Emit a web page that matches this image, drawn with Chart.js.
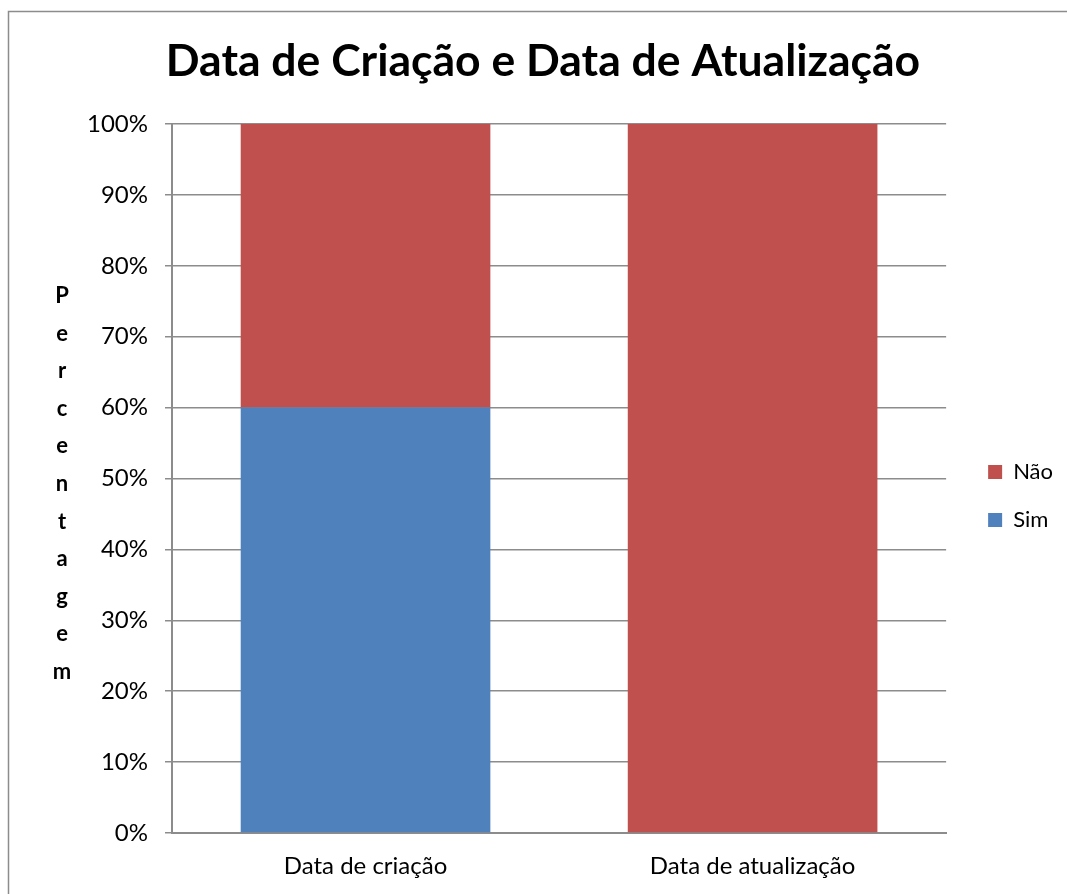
<!DOCTYPE html>
<html>
<head>
<meta charset="utf-8">
<script src="https://cdn.jsdelivr.net/npm/chart.js@4.4.0/dist/chart.umd.min.js"></script>
<style>
  html, body { margin: 0; padding: 0; background: #fff; overflow: hidden; }
  #wrap { width: 1067px; height: 894px; }
  canvas { display: block; }
</style>
</head>
<body>
<div id="wrap"><canvas id="grafico"></canvas></div>
<script>
const categorias = ["Data de criação", "Data de atualização"];
const sim = [60, 0];
const nao = [40, 100];
const ticksY = [0, 10, 20, 30, 40, 50, 60, 70, 80, 90, 100];
const tituloEixoY = "Percentagem";

const fonte = "Lato, 'Open Sans', sans-serif";
const cinza = "#8c8c8c";

// moldura exterior, legenda deslocada e título vertical letra a letra
const extras = {
  id: "extras",
  afterLayout(chart) {
    const lg = chart.legend;
    lg.left += 16; lg.right += 16;
    lg.top += 49; lg.bottom += 49;
  },
  beforeDraw(chart) {
    const ctx = chart.ctx;
    ctx.save();
    ctx.strokeStyle = cinza;
    ctx.lineWidth = 1.5;
    ctx.beginPath();
    ctx.moveTo(chart.width, 11.5);
    ctx.lineTo(8.5, 11.5);
    ctx.lineTo(8.5, chart.height);
    ctx.stroke();
    ctx.restore();
  },
  afterDraw(chart) {
    const ctx = chart.ctx;
    ctx.save();
    ctx.font = "bold 22px " + fonte;
    ctx.fillStyle = "#000";
    ctx.textAlign = "center";
    ctx.textBaseline = "middle";
    tituloEixoY.split("").forEach((l, i) => ctx.fillText(l, 62, 296 + i * 37.6));
    ctx.restore();
  }
};

new Chart(document.getElementById("grafico"), {
  type: "bar",
  data: {
    labels: categorias,
    datasets: [
      { label: "Sim", data: sim, backgroundColor: "#4f81bd", categoryPercentage: 1, barPercentage: 0.645 },
      { label: "Não", data: nao, backgroundColor: "#c0504d", categoryPercentage: 1, barPercentage: 0.645 }
    ]
  },
  options: {
    responsive: true,
    maintainAspectRatio: false,
    animation: false,
    layout: { padding: { top: 0, left: 39, right: 20, bottom: 0 } },
    plugins: {
      title: {
        display: true,
        text: "Data de Criação e Data de Atualização",
        color: "#000",
        font: { family: fonte, size: 44.5, weight: "bold" },
        padding: { top: 35, bottom: 35.6 }
      },
      legend: {
        position: "right",
        reverse: true,
        labels: {
          color: "#000",
          font: { family: fonte, size: 22 },
          boxWidth: 14,
          boxHeight: 14,
          padding: 26
        }
      },
      tooltip: { enabled: false }
    },
    scales: {
      x: {
        stacked: true,
        grid: { display: true, drawOnChartArea: false, drawTicks: false, color: "rgba(0,0,0,0)" },
        border: { display: true, color: cinza, width: 2 },
        ticks: { color: "#000", font: { family: fonte, size: 24 }, padding: 19 },
        afterFit(s) { s.height = 61; }
      },
      y: {
        stacked: true,
        min: 0,
        max: 100,
        afterBuildTicks(s) { s.ticks = ticksY.map(v => ({ value: v })); },
        grid: { color: cinza, lineWidth: 1.5, tickLength: 7 },
        border: { display: true, color: cinza, width: 2 },
        ticks: {
          color: "#000",
          font: { family: fonte, size: 24 },
          padding: 17,
          callback: v => v + "%"
        },
        afterFit(s) { s.width = 133; }
      }
    }
  },
  plugins: [extras]
});
</script>
</body>
</html>
